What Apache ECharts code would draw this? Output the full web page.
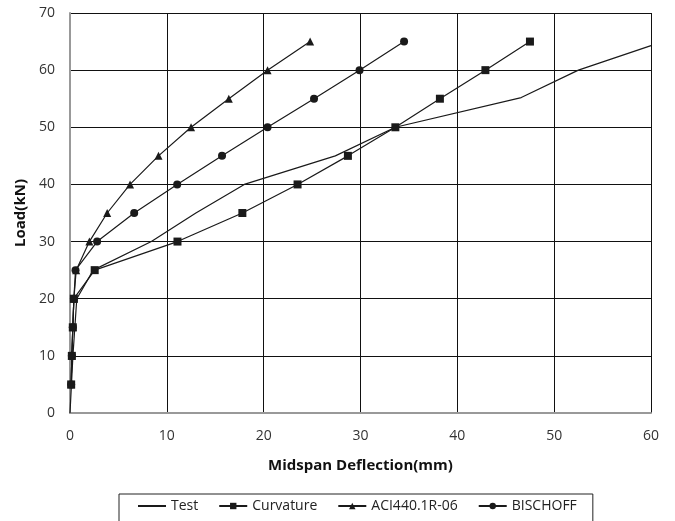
<!DOCTYPE html>
<html>
<head>
<meta charset="utf-8">
<script src="https://cdn.jsdelivr.net/npm/echarts@6/dist/echarts.min.js"></script>
<style>
  html, body { margin: 0; padding: 0; background: #fff; }
  #chart { width: 675px; height: 521px; }
</style>
</head>
<body>
<div id="chart"></div>
<script>
// values: [deflection mm, load kN]
const testData = [[0, 0], [0.3, 10], [0.7, 20], [2.4, 25], [8.4, 30], [13, 35], [18, 40], [27.4, 45], [33.6, 50], [46.6, 55.2], [52.5, 60], [60, 64.3]];
const curvatureData = [[0.12, 5], [0.19, 10], [0.29, 15], [0.4, 20], [2.55, 25], [11.1, 30], [17.8, 35], [23.5, 40], [28.7, 45], [33.6, 50], [38.2, 55], [42.9, 60], [47.5, 65]];
const aciData = [[0.12, 5], [0.19, 10], [0.29, 15], [0.4, 20], [0.64, 25], [2.0, 30], [3.84, 35], [6.2, 40], [9.14, 45], [12.5, 50], [16.4, 55], [20.4, 60], [24.8, 65]];
const bischoffData = [[0.12, 5], [0.19, 10], [0.29, 15], [0.4, 20], [0.57, 25], [2.8, 30], [6.63, 35], [11.07, 40], [15.7, 45], [20.4, 50], [25.2, 55], [29.9, 60], [34.5, 65]];
const seriesNames = ['Test', 'Curvature', 'ACI440.1R-06', 'BISCHOFF'];

const chart = echarts.init(document.getElementById('chart'));

const lineSeries = (name, data, symbol, size) => ({
  name: name,
  type: 'line',
  data: data,
  symbol: symbol,
  symbolSize: size,
  showSymbol: symbol !== 'none',
  lineStyle: { color: '#1a1a1a', width: 1.2 },
  itemStyle: { color: '#1a1a1a' },
  emphasis: { disabled: true },
  animation: false
});

chart.setOption({
  backgroundColor: '#fff',
  textStyle: { fontFamily: 'Open Sans' },
  grid: { left: 70, right: 24, top: 13, bottom: 108 },
  legend: {
    data: [
      { name: seriesNames[0], itemStyle: { opacity: 0 } },
      seriesNames[1], seriesNames[2], seriesNames[3]
    ],
    top: 494,
    left: 119,
    padding: [5, 16, 20, 18],
    borderColor: '#222',
    borderWidth: 1,
    itemWidth: 28,
    itemHeight: 8,
    itemGap: 20,
    textStyle: { fontSize: 14, color: '#222', fontFamily: 'Open Sans' }
  },
  xAxis: {
    type: 'value',
    min: 0,
    max: 60,
    interval: 10,
    name: 'Midspan Deflection(mm)',
    nameLocation: 'middle',
    nameGap: 45,
    nameTextStyle: { fontSize: 15, fontWeight: 'bold', color: '#111' },
    axisLine: { lineStyle: { color: '#999', width: 2 } },
    axisTick: { show: false },
    axisLabel: { fontSize: 14, color: '#333', margin: 16 },
    splitLine: { lineStyle: { color: '#111', width: 1 } }
  },
  yAxis: {
    type: 'value',
    min: 0,
    max: 70,
    interval: 10,
    name: 'Load(kN)',
    nameLocation: 'middle',
    nameGap: 40,
    nameTextStyle: { fontSize: 15, fontWeight: 'bold', color: '#111' },
    axisLine: { show: true, lineStyle: { color: '#999', width: 2 } },
    axisTick: { show: false },
    axisLabel: { fontSize: 14, color: '#333', margin: 15 },
    splitLine: { lineStyle: { color: '#111', width: 1 } }
  },
  series: [
    lineSeries(seriesNames[0], testData, 'none', 0),
    lineSeries(seriesNames[1], curvatureData, 'rect', 8),
    lineSeries(seriesNames[2], aciData, 'triangle', 8),
    lineSeries(seriesNames[3], bischoffData, 'circle', 8)
  ]
});
</script>
</body>
</html>
